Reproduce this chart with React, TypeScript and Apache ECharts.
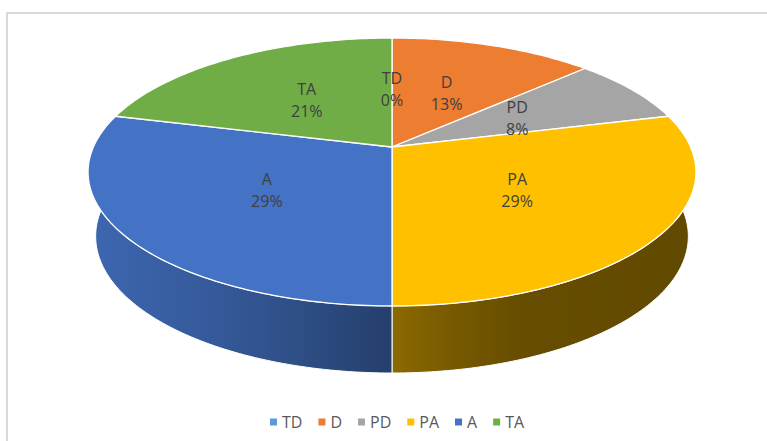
import React, { useEffect, useRef } from 'react';
import * as echarts from 'echarts';

const categories = ['TD', 'D', 'PD', 'PA', 'A', 'TA'];
const values = [0, 13, 8, 29, 29, 21];
const colors = ['#5b9bd5', '#ed7d31', '#a5a5a5', '#ffc000', '#4472c4', '#70ad47'];

// perspective projection of the pie disc
const CX = 392;
const CY = 147;
const SX = 298.6;
const SY = 129.3;
const K = 0.1866;
const THICK = 63.7;
const KT = 0.05;
const BOTTOM_SCALE = 0.975;
const FONT = '"Open Sans", "Liberation Sans", sans-serif';

function proj(theta: number, r: number, bottom: boolean): number[] {
  const u = r * Math.sin(theta);
  const v = -r * Math.cos(theta);
  const d = 1 - K * v;
  if (!bottom) return [CX + (SX * u) / d, CY + (SY * v) / d];
  return [CX + (BOTTOM_SCALE * SX * u) / d, CY + (SY * v) / d + THICK / (1 - KT * v)];
}

function shade(hex: string, f: number): string {
  const n = parseInt(hex.slice(1), 16);
  const r = Math.round(((n >> 16) & 255) * f);
  const g = Math.round(((n >> 8) & 255) * f);
  const b = Math.round((n & 255) * f);
  return `rgb(${r},${g},${b})`;
}

const shadeStops: number[][] = [
  [88, 0.9],
  [200, 0.8],
  [300, 0.68],
  [392, 0.55],
  [450, 0.47],
  [520, 0.4],
  [700, 0.38],
];

function sideGradient(hex: string) {
  const x0 = 88;
  const x1 = 700;
  return new echarts.graphic.LinearGradient(
    x0,
    0,
    x1,
    0,
    shadeStops.map(([x, f]) => ({ offset: (x - x0) / (x1 - x0), color: shade(hex, f) })),
    true
  );
}

export default function App() {
  const ref = useRef<HTMLDivElement>(null);

  useEffect(() => {
    document.body.style.margin = '0';
    if (!ref.current) return;
    const chart = echarts.init(ref.current, undefined, { renderer: 'svg' });
    const total = values.reduce((a, b) => a + b, 0);

    const series = categories.map((name, i) => {
      const before = values.slice(0, i).reduce((a, b) => a + b, 0);
      return {
        type: 'custom',
        name,
        coordinateSystem: 'none',
        itemStyle: { color: colors[i] },
        data: [[values[i]]],
        renderItem: (_params: any, api: any) => {
          const val = api.value(0);
          const a0 = (before / total) * Math.PI * 2;
          const a1 = ((before + val) / total) * Math.PI * 2;
          const children: any[] = [];
          if (a1 - a0 > 1e-6) {
            const n = Math.max(2, Math.ceil((a1 - a0) / (Math.PI / 180)));
            const topArc: number[][] = [];
            const botArc: number[][] = [];
            for (let k = 0; k <= n; k++) {
              const t = a0 + ((a1 - a0) * k) / n;
              topArc.push(proj(t, 1, false));
              botArc.push(proj(t, 1, true));
            }
            children.push({
              type: 'polygon',
              z2: 1,
              shape: { points: topArc.concat(botArc.slice().reverse()) },
              style: { fill: sideGradient(colors[i]), stroke: '#ffffff', lineWidth: 1 },
            });
            children.push({
              type: 'polygon',
              z2: 5,
              shape: { points: [[CX, CY]].concat(topArc) },
              style: { fill: colors[i], stroke: '#ffffff', lineWidth: 1.3 },
            });
          }
          const mid = (a0 + a1) / 2;
          const [lx, ly] = proj(mid, 0.5, false);
          const pct = Math.round((val / total) * 100);
          children.push({
            type: 'text',
            z2: 10,
            x: lx,
            y: ly + 1,
            style: {
              text: `${name}\n${pct}%`,
              fill: '#404040',
              font: `16px ${FONT}`,
              align: 'center',
              verticalAlign: 'middle',
              lineHeight: 22,
            },
          });
          return { type: 'group', children };
        },
      };
    });

    chart.setOption({
      animation: false,
      backgroundColor: '#ffffff',
      legend: {
        data: categories,
        top: 409,
        left: 265,
        icon: 'rect',
        itemWidth: 7,
        itemHeight: 7,
        itemGap: 16,
        selectedMode: false,
        textStyle: { fontSize: 16, color: '#595959', fontFamily: FONT },
      },
      graphic: [
        {
          type: 'rect',
          shape: { x: 7, y: 13, width: 800, height: 480 },
          style: { fill: 'none', stroke: '#d9d9d9', lineWidth: 2 },
          silent: true,
          z: -1,
        },
      ],
      series,
    } as any);

    return () => chart.dispose();
  }, []);

  return <div ref={ref} style={{ width: 767, height: 441 }} />;
}
